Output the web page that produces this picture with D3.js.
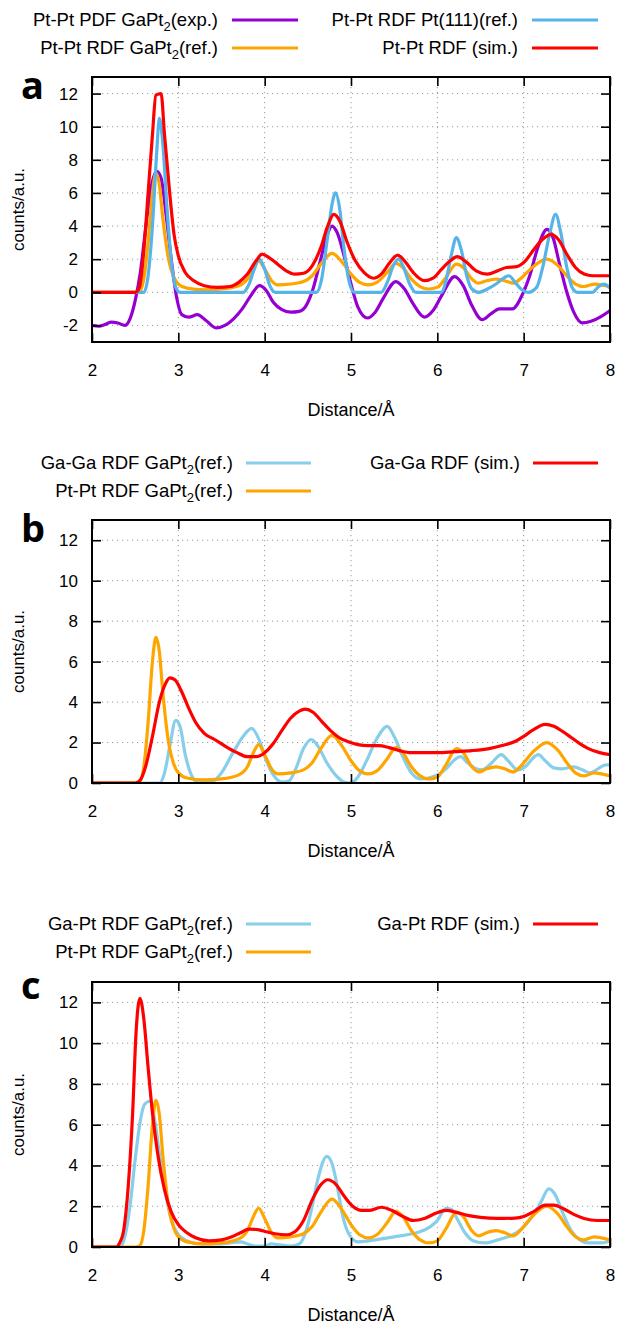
<!DOCTYPE html>
<html><head><meta charset="utf-8">
<script src="https://cdn.jsdelivr.net/npm/d3@7"></script>
<style>
body{margin:0;background:#fff}
svg{display:block}
text{font-family:"Liberation Sans",Arial,Helvetica,sans-serif;fill:#000}
</style>
</head><body>
<svg id="chart" width="617" height="1325"></svg>
<script>
// ---------- tick labels ----------
const xTicks = [2, 3, 4, 5, 6, 7, 8];
const yTicksA = [-2, 0, 2, 4, 6, 8, 10, 12];
const yTicksBC = [0, 2, 4, 6, 8, 10, 12];

// ---------- series (distance Å, counts) ----------
const ptPtExp = [[2.0,-2.0],[2.08,-2.05],[2.15,-1.95],[2.22,-1.8],[2.3,-1.85],[2.38,-2.0],[2.44,-1.6],[2.5,-0.5],[2.56,1.2],[2.62,3.8],[2.68,6.2],[2.75,7.3],[2.8,6.9],[2.86,4.6],[2.92,1.9],[2.98,-0.3],[3.04,-1.35],[3.12,-1.5],[3.22,-1.35],[3.32,-1.7],[3.44,-2.15],[3.54,-2.0],[3.64,-1.6],[3.74,-1.0],[3.84,-0.2],[3.94,0.4],[4.02,0.1],[4.1,-0.6],[4.2,-1.05],[4.3,-1.2],[4.4,-1.15],[4.48,-0.8],[4.56,0.2],[4.64,1.8],[4.72,3.4],[4.78,4.0],[4.84,3.6],[4.92,2.2],[5.0,0.5],[5.08,-0.9],[5.19,-1.55],[5.28,-1.2],[5.38,-0.3],[5.52,0.65],[5.62,0.2],[5.72,-0.7],[5.85,-1.5],[5.95,-1.1],[6.05,-0.2],[6.2,0.95],[6.3,0.4],[6.4,-0.8],[6.52,-1.65],[6.62,-1.3],[6.72,-1.0],[6.87,-1.0],[6.97,-0.3],[7.07,1.0],[7.17,2.8],[7.27,3.8],[7.34,3.3],[7.42,1.6],[7.5,0.0],[7.58,-1.2],[7.68,-1.85],[7.78,-1.75],[7.9,-1.45],[8.0,-1.1]];

const ptPtPt111 = [[2.0,0],[2.6,0],[2.65,1.0],[2.7,4.0],[2.75,8.5],[2.78,10.5],[2.82,9.0],[2.87,5.0],[2.92,1.8],[2.97,0.3],[3.02,0],[3.75,0],[3.82,0.5],[3.88,1.4],[3.94,2.0],[4.0,1.4],[4.06,0.4],[4.12,0],[4.6,0],[4.66,0.8],[4.72,3.0],[4.78,5.3],[4.82,6.0],[4.87,5.0],[4.92,2.6],[4.98,0.6],[5.04,0],[5.35,0],[5.42,0.6],[5.49,1.6],[5.55,2.0],[5.61,1.5],[5.68,0.5],[5.75,0],[6.05,0],[6.1,0.7],[6.16,2.2],[6.22,3.3],[6.28,2.5],[6.34,1.0],[6.4,0.2],[6.48,0],[6.58,0.2],[6.68,0.5],[6.78,0.9],[6.83,1.0],[6.9,0.6],[6.98,0.15],[7.05,0],[7.15,0.3],[7.22,1.5],[7.3,3.5],[7.37,4.7],[7.43,3.6],[7.5,1.5],[7.56,0.3],[7.62,0],[7.8,0],[7.86,0.3],[7.93,0.5],[8.0,0.25]];

const ptPtRef = [[2.0,0],[2.5,0],[2.55,0.05],[2.6,0.8],[2.65,3.0],[2.7,6.0],[2.74,7.2],[2.78,6.5],[2.82,4.5],[2.88,2.2],[2.95,0.9],[3.0,0.5],[3.1,0.25],[3.3,0.15],[3.5,0.2],[3.7,0.4],[3.8,0.8],[3.87,1.5],[3.93,1.9],[4.0,1.4],[4.08,0.7],[4.15,0.45],[4.3,0.5],[4.45,0.65],[4.55,1.0],[4.65,1.7],[4.78,2.35],[4.9,1.8],[5.0,1.1],[5.1,0.6],[5.2,0.45],[5.3,0.6],[5.42,1.2],[5.52,1.75],[5.6,1.5],[5.7,0.8],[5.8,0.35],[5.9,0.2],[6.0,0.3],[6.1,0.9],[6.22,1.7],[6.3,1.5],[6.4,0.8],[6.48,0.55],[6.57,0.7],[6.68,0.8],[6.78,0.7],[6.88,0.55],[6.98,0.9],[7.1,1.5],[7.27,2.0],[7.4,1.6],[7.5,1.0],[7.6,0.5],[7.7,0.35],[7.82,0.5],[7.9,0.45],[8.0,0.35]];

const ptPtSim = [[2.0,0],[2.5,0],[2.55,0.3],[2.6,2.5],[2.65,6],[2.7,9.5],[2.74,11.9],[2.8,12.0],[2.84,9.5],[2.9,6.0],[2.95,3.5],[3.0,2.2],[3.08,1.2],[3.18,0.7],[3.3,0.4],[3.45,0.3],[3.6,0.35],[3.7,0.6],[3.8,1.1],[3.9,1.9],[3.97,2.3],[4.05,2.1],[4.15,1.7],[4.25,1.3],[4.35,1.1],[4.45,1.15],[4.55,1.6],[4.65,2.7],[4.73,4.0],[4.8,4.7],[4.87,4.3],[4.95,3.1],[5.05,1.9],[5.15,1.2],[5.26,0.85],[5.35,1.1],[5.45,1.8],[5.54,2.25],[5.62,1.9],[5.72,1.2],[5.85,0.7],[5.95,0.85],[6.05,1.4],[6.15,1.9],[6.23,2.15],[6.32,1.9],[6.45,1.3],[6.58,1.1],[6.7,1.3],[6.8,1.5],[6.92,1.55],[7.02,1.9],[7.12,2.6],[7.22,3.2],[7.32,3.5],[7.4,3.2],[7.5,2.3],[7.6,1.5],[7.7,1.1],[7.8,1.0],[8.0,1.0]];

const gaGaRef = [[2.0,0],[2.78,0],[2.84,0.5],[2.9,1.8],[2.97,3.1],[3.02,2.8],[3.08,1.4],[3.15,0.4],[3.22,0.05],[3.38,0.05],[3.5,0.5],[3.62,1.4],[3.75,2.3],[3.85,2.7],[3.93,2.2],[4.02,1.1],[4.1,0.4],[4.2,0.05],[4.28,0.1],[4.36,0.7],[4.45,1.7],[4.54,2.15],[4.62,1.8],[4.72,1.0],[4.82,0.4],[4.92,0.05],[5.0,0.0],[5.08,0.3],[5.18,1.1],[5.3,2.2],[5.42,2.8],[5.5,2.3],[5.6,1.3],[5.7,0.5],[5.8,0.2],[5.9,0.25],[6.0,0.4],[6.1,0.7],[6.2,1.15],[6.27,1.3],[6.35,1.0],[6.45,0.7],[6.52,0.65],[6.62,0.95],[6.74,1.4],[6.82,1.1],[6.93,0.65],[7.03,0.85],[7.1,1.2],[7.17,1.4],[7.25,1.1],[7.35,0.75],[7.45,0.7],[7.58,0.8],[7.68,0.65],[7.77,0.5],[7.86,0.7],[7.95,0.9],[8.0,0.9]];

const gaGaSim = [[2.0,0],[2.5,0],[2.56,0.15],[2.62,0.8],[2.7,2.3],[2.78,4.0],[2.85,4.9],[2.9,5.2],[2.96,5.1],[3.04,4.5],[3.12,3.7],[3.2,3.0],[3.3,2.45],[3.42,2.15],[3.55,1.8],[3.68,1.5],[3.8,1.3],[3.9,1.3],[4.0,1.5],[4.1,1.95],[4.2,2.6],[4.3,3.2],[4.4,3.55],[4.47,3.65],[4.56,3.5],[4.66,3.05],[4.76,2.6],[4.86,2.25],[4.96,2.05],[5.08,1.9],[5.2,1.85],[5.32,1.85],[5.44,1.75],[5.56,1.6],[5.7,1.5],[5.85,1.5],[6.0,1.5],[6.2,1.55],[6.4,1.6],[6.6,1.7],[6.75,1.85],[6.9,2.05],[7.0,2.3],[7.1,2.6],[7.25,2.9],[7.35,2.8],[7.45,2.55],[7.55,2.25],[7.65,1.95],[7.75,1.7],[7.88,1.5],[8.0,1.4]];

const gaPtRef = [[2.0,0],[2.32,0],[2.38,0.5],[2.44,2.0],[2.5,4.3],[2.56,6.2],[2.61,7.0],[2.67,7.15],[2.72,6.4],[2.78,4.6],[2.85,2.7],[2.92,1.3],[3.0,0.6],[3.1,0.3],[3.25,0.15],[3.45,0.15],[3.6,0.2],[3.72,0.25],[3.8,0.15],[3.9,0.05],[4.0,0.05],[4.08,0.15],[4.18,0.1],[4.3,0.05],[4.4,0.15],[4.48,0.8],[4.55,2.0],[4.62,3.4],[4.72,4.45],[4.78,4.1],[4.84,3.0],[4.9,1.6],[4.98,0.6],[5.08,0.25],[5.2,0.3],[5.35,0.4],[5.5,0.5],[5.65,0.6],[5.8,0.75],[5.92,1.0],[6.0,1.3],[6.1,1.9],[6.16,1.85],[6.24,1.3],[6.32,0.7],[6.42,0.3],[6.55,0.2],[6.7,0.35],[6.85,0.55],[6.98,0.9],[7.1,1.5],[7.2,2.2],[7.29,2.85],[7.36,2.6],[7.45,1.7],[7.55,0.8],[7.65,0.35],[7.75,0.2],[7.9,0.2],[8.0,0.3]];

const gaPtSim = [[2.0,0],[2.28,0],[2.32,0.2],[2.37,0.9],[2.42,3.0],[2.47,6.5],[2.51,10.5],[2.555,12.2],[2.6,11.2],[2.65,8.8],[2.7,6.6],[2.76,4.6],[2.84,2.8],[2.92,1.7],[3.0,1.1],[3.1,0.7],[3.2,0.45],[3.35,0.3],[3.5,0.35],[3.62,0.5],[3.72,0.7],[3.82,0.88],[3.92,0.85],[4.02,0.75],[4.12,0.65],[4.25,0.6],[4.35,0.75],[4.45,1.3],[4.55,2.3],[4.65,3.05],[4.73,3.3],[4.82,3.1],[4.92,2.5],[5.02,2.0],[5.12,1.8],[5.22,1.8],[5.35,1.95],[5.47,1.8],[5.6,1.5],[5.72,1.3],[5.85,1.4],[5.98,1.65],[6.1,1.8],[6.22,1.7],[6.35,1.55],[6.5,1.45],[6.7,1.4],[6.9,1.42],[7.0,1.5],[7.12,1.75],[7.25,2.05],[7.35,2.05],[7.45,1.9],[7.58,1.6],[7.7,1.4],[7.85,1.3],[8.0,1.3]];

// ---------- colours ----------
const C = {purple:"#9400d3", blueA:"#56b4e9", blueB:"#87ceeb", orange:"#ffa500", red:"#ff0000"};

const panels = [
  {letter:"a", top:77, bottom:342, ydom:[-3,13], yticks:yTicksA, letterY:99,
   rows:[20,48], col1:{text:218,l1:232,l2:298}, col2:{text:518,l1:532,l2:598},
   series:[
     {name:"Pt-Pt PDF GaPt", sub:"2", tail:"(exp.)", data:ptPtExp, color:C.purple, col:1,row:0},
     {name:"Pt-Pt RDF GaPt", sub:"2", tail:"(ref.)", data:ptPtRef, color:C.orange, col:1,row:1},
     {name:"Pt-Pt RDF Pt(111)(ref.)", data:ptPtPt111, color:C.blueA, col:2,row:0},
     {name:"Pt-Pt RDF (sim.)", data:ptPtSim, color:C.red, col:2,row:1}
   ]},
  {letter:"b", top:520, bottom:783, ydom:[0,13], yticks:yTicksBC, letterY:542,
   rows:[463,491], col1:{text:233,l1:246,l2:311}, col2:{text:520,l1:533,l2:598},
   series:[
     {name:"Ga-Ga RDF GaPt", sub:"2", tail:"(ref.)", data:gaGaRef, color:C.blueB, col:1,row:0},
     {name:"Pt-Pt RDF GaPt", sub:"2", tail:"(ref.)", data:ptPtRef, color:C.orange, col:1,row:1},
     {name:"Ga-Ga RDF (sim.)", data:gaGaSim, color:C.red, col:2,row:0}
   ]},
  {letter:"c", top:982, bottom:1247, ydom:[0,13], yticks:yTicksBC, letterY:999,
   rows:[924,952], col1:{text:233,l1:246,l2:311}, col2:{text:520,l1:533,l2:598},
   series:[
     {name:"Ga-Pt RDF GaPt", sub:"2", tail:"(ref.)", data:gaPtRef, color:C.blueB, col:1,row:0},
     {name:"Pt-Pt RDF GaPt", sub:"2", tail:"(ref.)", data:ptPtRef, color:C.orange, col:1,row:1},
     {name:"Ga-Pt RDF (sim.)", data:gaPtSim, color:C.red, col:2,row:0}
   ]}
];

const svg = d3.select("#chart");
const X0 = 92, X1 = 610;
const x = d3.scaleLinear().domain([2, 8]).range([X0, X1]);
const fmt = d => String(d);

panels.forEach((p, i) => {
  const y = d3.scaleLinear().domain(p.ydom).range([p.bottom, p.top]);
  const g = svg.append("g");

  const cid = "clip" + i;
  svg.append("clipPath").attr("id", cid).append("rect")
    .attr("x", X0).attr("y", p.top).attr("width", X1 - X0).attr("height", p.bottom - p.top);

  // grid
  g.append("g").selectAll("line").data(xTicks.filter(t => t > 2 && t < 8)).join("line")
    .attr("x1", d => x(d)).attr("x2", d => x(d)).attr("y1", p.top).attr("y2", p.bottom)
    .attr("stroke", "#9a9a9a").attr("stroke-width", 1).attr("stroke-dasharray", "1.2,3.8");
  g.append("g").selectAll("line").data(p.yticks.filter(t => y(t) < p.bottom - 1)).join("line")
    .attr("x1", X0).attr("x2", X1).attr("y1", d => y(d)).attr("y2", d => y(d))
    .attr("stroke", "#9a9a9a").attr("stroke-width", 1).attr("stroke-dasharray", "1.2,3.8");

  // curves
  const line = d3.line().x(d => x(d[0])).y(d => y(d[1])).curve(d3.curveMonotoneX);
  const lg = g.append("g").attr("clip-path", `url(#${cid})`);
  p.series.forEach(s => {
    lg.append("path").attr("d", line(s.data)).attr("fill", "none")
      .attr("stroke", s.color).attr("stroke-width", 3.2).attr("stroke-linejoin", "round");
  });

  // axes (inward ticks on all four sides)
  const ax = (axis, tr) => {
    const a = g.append("g").attr("transform", tr).call(axis);
    a.select(".domain").remove();
    a.selectAll(".tick line").attr("stroke", "#000").attr("stroke-width", 1.6);
    return a;
  };
  const bx = ax(d3.axisBottom(x).tickValues(xTicks).tickSize(-9).tickPadding(22).tickFormat(fmt), `translate(0,${p.bottom})`);
  bx.selectAll("text").attr("font-size", 17).attr("font-family", '"Liberation Sans",Arial,sans-serif');
  ax(d3.axisTop(x).tickValues(xTicks).tickSize(-9).tickFormat(""), `translate(0,${p.top})`);
  const ly = ax(d3.axisLeft(y).tickValues(p.yticks).tickSize(-9).tickPadding(14).tickFormat(fmt), `translate(${X0},0)`);
  ly.selectAll("text").attr("font-size", 17).attr("font-family", '"Liberation Sans",Arial,sans-serif');
  ax(d3.axisRight(y).tickValues(p.yticks).tickSize(-9).tickFormat(""), `translate(${X1},0)`);

  // border
  g.append("rect").attr("x", X0).attr("y", p.top).attr("width", X1 - X0).attr("height", p.bottom - p.top)
    .attr("fill", "none").attr("stroke", "#000").attr("stroke-width", 2);

  // axis titles
  g.append("text").attr("x", (X0 + X1) / 2).attr("y", p.bottom + 74).attr("text-anchor", "middle")
    .attr("font-size", 18).text("Distance/Å");
  g.append("text").attr("transform", `translate(24,${(p.top + p.bottom) / 2}) rotate(-90)`)
    .attr("text-anchor", "middle").attr("font-size", 17).text("counts/a.u.");

  // panel letter
  g.append("text").attr("x", 21).attr("y", p.letterY)
    .style("font-family", '"Open Sans",sans-serif').attr("font-weight", 700).attr("font-size", 38).text(p.letter);

  // legend
  p.series.forEach(s => {
    const col = s.col === 1 ? p.col1 : p.col2;
    const ry = p.rows[s.row];
    const t = g.append("text").attr("x", col.text).attr("y", ry + 6).attr("text-anchor", "end").attr("font-size", 18.5);
    if (s.sub) {
      t.append("tspan").text(s.name);
      t.append("tspan").attr("dy", 5).attr("font-size", 13).text(s.sub);
      t.append("tspan").attr("dy", -5).text(s.tail);
    } else {
      t.text(s.name);
    }
    g.append("line").attr("x1", col.l1).attr("x2", col.l2).attr("y1", ry).attr("y2", ry)
      .attr("stroke", s.color).attr("stroke-width", 3.2);
  });
});
</script>
</body></html>
